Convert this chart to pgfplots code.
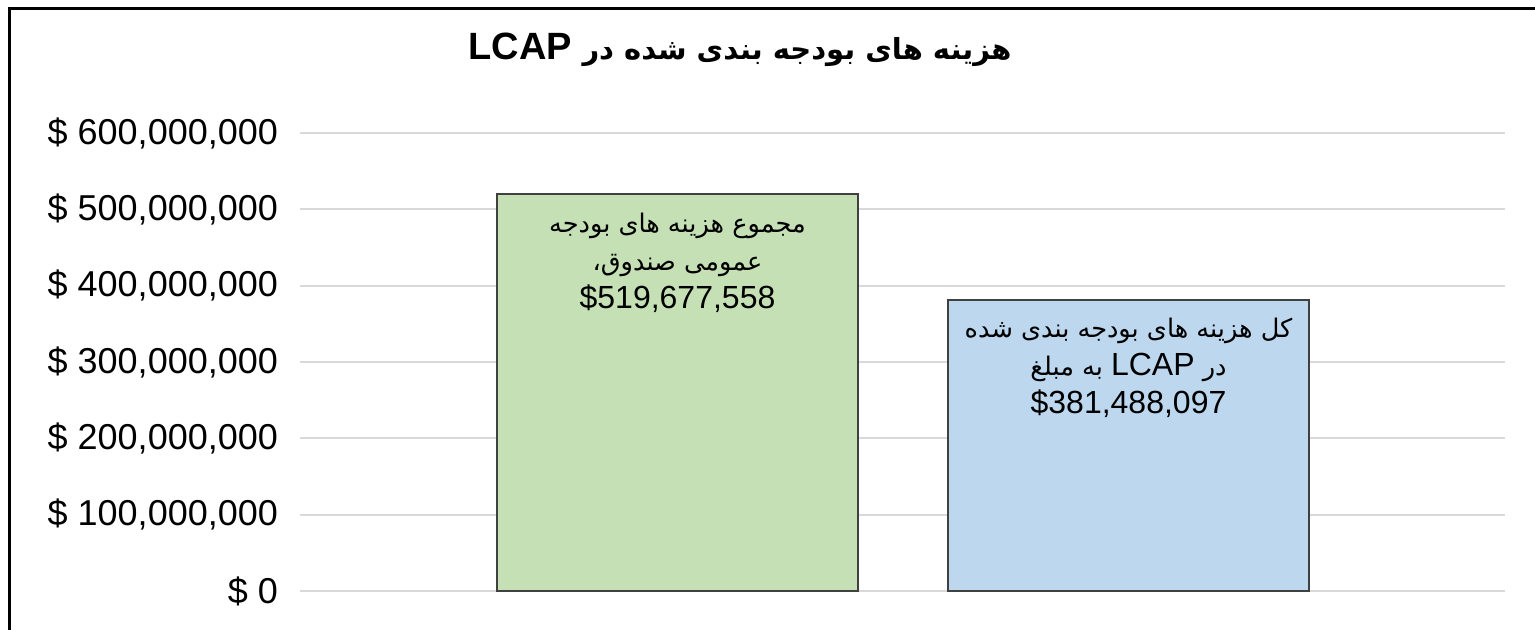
\documentclass[border=0pt]{standalone}
\usepackage{pgfplots}
\pgfplotsset{compat=1.18}
\usepackage{fontspec}
\setmainfont{Liberation Sans}
\newfontfamily\arabicfont[Script=Arabic]{DejaVu Sans}
\TeXXeTstate=1
\definecolor{barGreen}{HTML}{C5E0B4}
\definecolor{barBlue}{HTML}{BDD7EE}
\definecolor{barEdge}{HTML}{404040}
\definecolor{gridGray}{HTML}{D9D9D9}
\newcommand{\fa}{\arabicfont\fontsize{12.8}{19}\selectfont}

\begin{document}
\begin{tikzpicture}
\useasboundingbox (0pt,0pt) rectangle (767.5pt,315pt);
\draw[line width=1.5pt, black] (4.5pt,0pt) -- (4.5pt,310.5pt) -- (767.5pt,310.5pt);
\node[font=\fontsize{19}{22}\selectfont\bfseries, inner sep=0] at (370pt,290pt)
  {\beginR{\arabicfont\fontsize{14.5}{22}\selectfont هزینه های بودجه بندی شده در} \beginL LCAP\endL\endR};
\begin{axis}[
  at={(150pt,19.5pt)}, anchor=south west,
  scale only axis, width=602.5pt, height=229pt,
  xmin=300, xmax=1505, ymin=0, ymax=6e8,
  axis line style={draw=none}, tick style={draw=none},
  xtick=\empty,
  ytick={0,1e8,2e8,3e8,4e8,5e8,6e8},
  yticklabels={{\$ 0},{\$ 100,000,000},{\$ 200,000,000},{\$ 300,000,000},{\$ 400,000,000},{\$ 500,000,000},{\$ 600,000,000}},
  yticklabel style={font=\fontsize{18}{22}\selectfont, xshift=-7.5pt},
  scaled y ticks=false,
  ymajorgrids, grid style={gridGray, line width=1pt},
  ybar, bar width=361,
  clip=false,
]
\addplot[fill=barGreen, draw=barEdge, line width=1pt, bar shift=0] coordinates {(677.5,519677558)};
\addplot[fill=barBlue, draw=barEdge, line width=1pt, bar shift=0] coordinates {(1128.5,381488097)};
\node[anchor=north, align=center, inner sep=0, yshift=-9pt, font=\fontsize{16}{19}\selectfont]
  at (axis cs:677.5,519677558)
  {{\fa\beginR مجموع هزینه های بودجه\endR}\\
   {\fa\beginR عمومی صندوق،\endR}\\
   \$519,677,558};
\node[anchor=north, align=center, inner sep=0, yshift=-9pt, font=\fontsize{16}{19}\selectfont]
  at (axis cs:1128.5,381488097)
  {{\fa\beginR کل هزینه های بودجه بندی شده\endR}\\
   {\fa\beginR در \beginL{\fontspec{Liberation Sans}\fontsize{16}{19}\selectfont LCAP}\endL{} به مبلغ\endR}\\
   \$381,488,097};
\end{axis}
\end{tikzpicture}
\end{document}
